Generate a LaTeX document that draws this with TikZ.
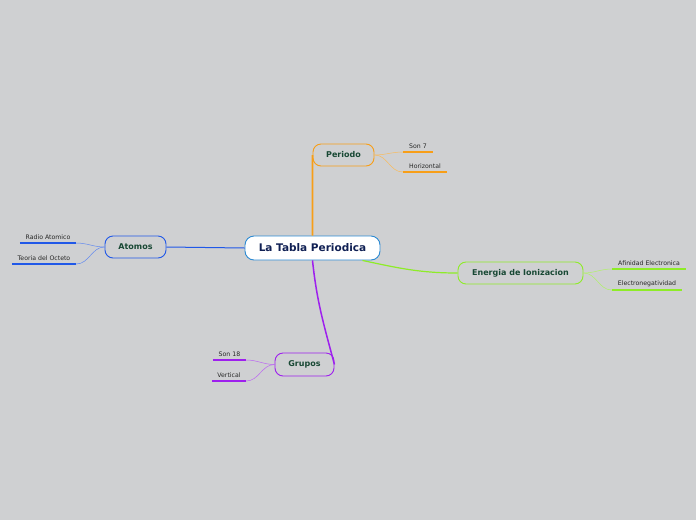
\documentclass[tikz,border=0pt]{standalone}
\usepackage{fontspec}
\setmainfont{DejaVu Sans}
\usepackage{xcolor}
\usetikzlibrary{positioning, calc}
\definecolor{mapgray}{RGB}{207, 208, 210}
\definecolor{mapnavy}{RGB}{16, 32, 84}
\definecolor{mapgreentext}{RGB}{24, 72, 52}
\definecolor{mapcenter}{RGB}{44, 138, 210}
\definecolor{maporange}{RGB}{247, 158, 24}
\definecolor{mapblue}{RGB}{32, 88, 232}
\definecolor{mapgreen}{RGB}{142, 236, 40}
\definecolor{mappurple}{RGB}{158, 32, 238}

\begin{document}
\begin{tikzpicture}[
    x=1pt, y=-1pt,
    root/.style={rectangle, rounded corners=9pt, draw=mapcenter, line width=0.9pt, fill=white, minimum width=135pt, minimum height=24pt, font=\fontsize{10.5}{12}\selectfont\bfseries, text=mapnavy},
    topic/.style={rectangle, rounded corners=8pt, draw=#1, line width=0.9pt, fill=mapgray, minimum height=22pt, font=\fontsize{8}{9}\selectfont\bfseries, text=mapgreentext},
    leaf/.style={inner xsep=1pt, inner ysep=3pt, anchor=south, font=\fontsize{6.2}{7}\selectfont, text=black!85},
    uline/.style={draw=#1, line width=1.6pt},
    twig/.style={draw=#1!70, line width=0.5pt}
]
\fill[mapgray] (0,0) rectangle (696,520);
\useasboundingbox (0,0) rectangle (696,520);

% Central topic and main branches
\node[root] (tabla) at (312.5,248) {La Tabla Periodica};
\node[topic=maporange, minimum width=61pt] (periodo) at (343.5,155) {Periodo};
\node[topic=mapblue, minimum width=61pt] (atomos) at (135.5,247) {Atomos};
\node[topic=mapgreen, minimum width=125pt] (energia) at (520.5,273) {Energia de Ionizacion};
\node[topic=mappurple, minimum width=59pt, minimum height=23pt] (grupos) at (304.5,364.5) {Grupos};

% Leaves
\node[leaf, minimum width=30pt] (son7) at (418,152) {Son 7};
\node[leaf, minimum width=44pt] (horizontal) at (425,172) {Horizontal};
\node[leaf, minimum width=56pt] (radio) at (48,243) {Radio Atomico};
\node[leaf, minimum width=64pt] (octeto) at (44,264) {Teoria del Octeto};
\node[leaf, minimum width=74pt] (afinidad) at (649,269) {Afinidad Electronica};
\node[leaf, minimum width=70pt] (electro) at (647,290) {Electronegatividad};
\node[leaf, minimum width=33pt] (son18) at (229.5,360) {Son 18};
\node[leaf, minimum width=34pt] (vertical) at (229,381) {Vertical};

% Underlines
\draw[uline=maporange] (son7.south west) -- (son7.south east);
\draw[uline=maporange] (horizontal.south west) -- (horizontal.south east);
\draw[uline=mapblue] (radio.south west) -- (radio.south east);
\draw[uline=mapblue] (octeto.south west) -- (octeto.south east);
\draw[uline=mapgreen] (afinidad.south west) -- (afinidad.south east);
\draw[uline=mapgreen] (electro.south west) -- (electro.south east);
\draw[uline=mappurple] (son18.south west) -- (son18.south east);
\draw[uline=mappurple] (vertical.south west) -- (vertical.south east);

% Main connectors
\draw[maporange, line width=1.8pt] (tabla.north) -- (periodo.west);
\draw[mapblue, line width=1pt] (tabla.west) -- (atomos.east);
\draw[mapgreen, line width=1.2pt] (tabla.-14) to[out=-12, in=180] (energia.west);
\draw[mappurple, line width=1.5pt] (tabla.south) to[out=-84, in=105] (grupos.east);

% Leaf connectors
\draw[twig=maporange] (periodo.east) to[out=0, in=180] (son7.south west);
\draw[twig=maporange] (periodo.east) to[out=0, in=180] (horizontal.south west);
\draw[twig=mapblue] (atomos.west) to[out=180, in=0] (radio.south east);
\draw[twig=mapblue] (atomos.west) to[out=180, in=0] (octeto.south east);
\draw[twig=mapgreen] (energia.east) to[out=0, in=180] (afinidad.south west);
\draw[twig=mapgreen] (energia.east) to[out=0, in=180] (electro.south west);
\draw[twig=mappurple] (grupos.west) to[out=180, in=0] (son18.south east);
\draw[twig=mappurple] (grupos.west) to[out=180, in=0] (vertical.south east);

\end{tikzpicture}
\end{document}
